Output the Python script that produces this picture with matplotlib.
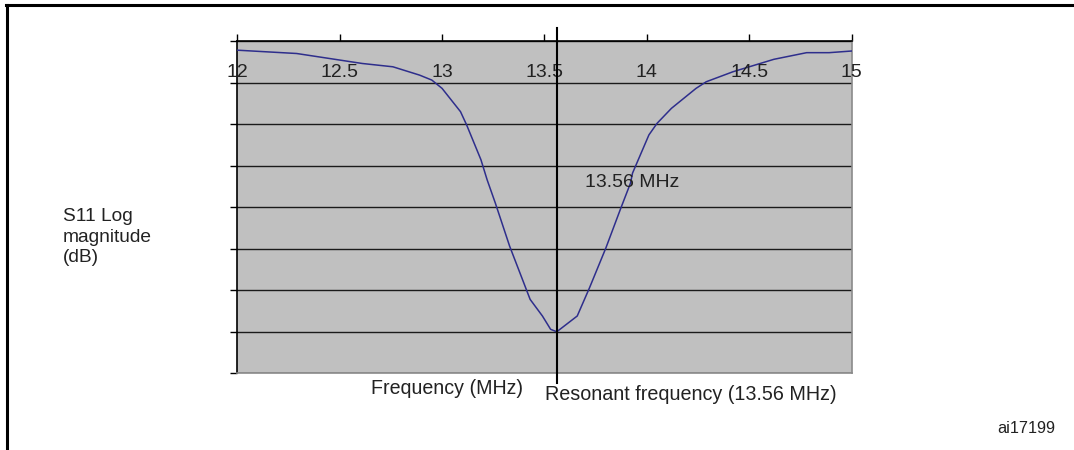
import matplotlib
matplotlib.use("Agg")
import matplotlib.pyplot as plt
from matplotlib.lines import Line2D

plt.rcParams['font.family'] = ['Liberation Sans', 'DejaVu Sans']

# S11 sweep (MHz, dB)
freq = [12.00, 12.29, 12.61, 12.76, 12.89, 12.95, 13.00, 13.09, 13.12, 13.19,
        13.22, 13.26, 13.33, 13.38, 13.43, 13.49, 13.53, 13.56, 13.66, 13.72,
        13.80, 13.87, 13.92, 13.93, 14.01, 14.05, 14.12, 14.24, 14.29, 14.42,
        14.62, 14.78, 14.89, 15.00]
s11 = [-1.1, -1.5, -2.7, -3.1, -4.1, -4.7, -5.7, -8.5, -10.1, -14.3,
       -16.7, -19.5, -24.7, -27.9, -31.1, -33.1, -34.7, -35.0, -33.1, -29.7,
       -24.9, -20.3, -17.1, -15.9, -11.3, -9.9, -8.1, -5.7, -4.9, -3.7,
       -2.2, -1.4, -1.4, -1.2]
xticks = [12, 12.5, 13, 13.5, 14, 14.5, 15]
xtick_labels = ['12', '12.5', '13', '13.5', '14', '14.5', '15']
ygrid = [0, -5, -10, -15, -20, -25, -30, -35, -40]
f_res = 13.56

txt = '#222222'
fig = plt.figure(figsize=(10.74, 4.5), dpi=100)
ax = fig.add_axes([0.2209, 0.1704, 0.5721, 0.7384])
ax.set_facecolor('#c0c0c0')
ax.set_xlim(12, 15)
ax.set_ylim(-40, 0)

ax.plot(freq, s11, color='#2e2e8c', lw=1.1, zorder=3)

# horizontal gridlines
ax.set_yticks(ygrid)
ax.set_yticklabels([])
ax.grid(axis='y', color='#1a1a1a', lw=1.0)
ax.grid(axis='x', visible=False)
ax.tick_params(axis='y', direction='out', length=5, width=1, color='black')

# x ticks on the top axis, labels drawn just inside the plot
ax.xaxis.tick_top()
ax.set_xticks(xticks)
ax.set_xticklabels([])
ax.tick_params(axis='x', direction='out', length=5, width=1, color='black')
for t, lab in zip(xticks, xtick_labels):
    ax.text(t, 0.906, lab, transform=ax.get_xaxis_transform(), ha='center',
            va='center', fontsize=14, color=txt)

for s in ['left', 'top']:
    ax.spines[s].set_color('black')
    ax.spines[s].set_linewidth(1.2)
for s in ['right', 'bottom']:
    ax.spines[s].set_color('#8a8a8a')
    ax.spines[s].set_linewidth(1.2)

# resonant frequency marker
ax.axvline(f_res, ymin=-0.03, ymax=1.039, color='black', lw=1.5,
           clip_on=False, zorder=4)
ax.text(13.70, -17.0, '13.56 MHz', ha='left', va='center', fontsize=14,
        color=txt, zorder=5)

fig.text(0.3455, 0.1372, 'Frequency (MHz)', ha='left', va='center',
         fontsize=14.1, color=txt)
fig.text(0.5075, 0.1240, 'Resonant frequency (13.56 MHz)', ha='left',
         va='center', fontsize=14.2, color=txt)
fig.text(0.0583, 0.4733, 'S11 Log\nmagnitude\n(dB)', ha='left', va='center',
         fontsize=13.8, color=txt, linespacing=1.3)
fig.text(0.929, 0.0467, 'ai17199', ha='left', va='center', fontsize=11.7,
         color=txt)

# outer frame of the figure box
fig.add_artist(Line2D([0.0065, 0.0065], [0, 0.989], color='black', lw=2.2,
                      transform=fig.transFigure))
fig.add_artist(Line2D([0.0055, 1.0], [0.989, 0.989], color='black', lw=2.2,
                      transform=fig.transFigure))

fig.savefig('out.png', dpi=100)
